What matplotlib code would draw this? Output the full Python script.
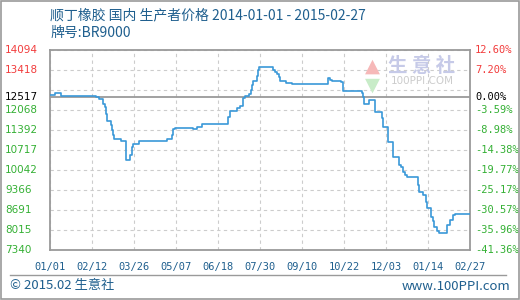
import matplotlib
matplotlib.use("Agg")
import matplotlib.pyplot as plt
from matplotlib.lines import Line2D
from matplotlib.patches import Rectangle
from matplotlib.transforms import blended_transform_factory

plt.rcParams['font.family'] = ['Noto Sans CJK SC', 'DejaVu Sans']

titulo = "顺丁橡胶 国内 生产者价格 2014-01-01 - 2015-02-27"
subtitulo = "牌号:BR9000"

# precio por escalones: dia desde 2014-01-01 -> precio
dias = [0, 5, 11, 46, 49, 53, 55, 56, 57, 61, 62, 63, 64, 71, 76, 80, 82, 83,
        89, 117, 122, 123, 125, 143, 147, 152, 178, 180, 187, 190, 193, 195,
        199, 201, 202, 203, 207, 208, 209, 210, 223, 225, 227, 229, 230, 236,
        242, 278, 280, 282, 291, 293, 312, 313, 314, 319, 325, 332, 333, 338,
        343, 349, 351, 353, 355, 357, 368, 369, 373, 376, 377, 381, 383, 384,
        387, 389, 397, 400, 403, 405]
precios = [12570, 12630, 12540, 12507, 12430, 12260, 12170, 11940, 11690, 11550,
           11380, 11230, 11080, 11010, 10380, 10550, 10830, 10910, 11010, 11080,
           11220, 11420, 11450, 11420, 11480, 11590, 11840, 12030, 12120, 12200,
           12480, 12540, 12600, 12740, 12910, 13060, 13230, 13420, 13510, 13530,
           13420, 13360, 13270, 13190, 13050, 12970, 12940, 13140, 13080, 13060,
           13020, 12710, 12630, 12500, 12270, 12410, 12010, 11790, 11480, 10980,
           10490, 10210, 10130, 9980, 9870, 9820, 9540, 9290, 9200, 8970,
           8750, 8470, 8330, 8110, 7990, 7900, 8180, 8350, 8520, 8560]
dia_final = 420

base = 12517
x_ticks = [0, 42, 84, 126, 168, 210, 252, 294, 336, 378, 420]
x_labels = ["01/01", "02/12", "03/26", "05/07", "06/18", "07/30",
            "09/10", "10/22", "12/03", "01/14", "02/27"]

y_grid = [14094, 13418.6, 12743.2, 12067.8, 11392.4, 10717,
          10041.6, 9366.2, 8690.8, 8015.4, 7340]
y_vals = [14094, 13418.6, 12517, 12067.8, 11392.4, 10717,
          10041.6, 9366.2, 8690.8, 8015.4, 7340]
y_labels = ["14094", "13418", "12517", "12068", "11392", "10717",
            "10042", "9366", "8691", "8015", "7340"]
pct_labels = ["12.60%", "7.20%", "0.00%", "-3.59%", "-8.98%", "-14.38%",
              "-19.77%", "-25.17%", "-30.57%", "-35.96%", "-41.36%"]

azul_texto = '#1f5f8e'
rojo = '#f23c3c'
verde = '#34b034'
gris = '#9a9a9a'

fig = plt.figure(figsize=(5.2, 3.0), dpi=100)
ax = fig.add_axes([50 / 520, 50 / 300, 420 / 520, 200 / 300])

ax.step(dias + [dia_final], precios + [precios[-1]], where='post',
        color='#3a98d8', linewidth=1.2, zorder=3)

ax.set_xlim(0, 420)
ax.set_ylim(7340, 14094)
ax.set_yticks(y_grid)
ax.set_xticks(x_ticks)
ax.tick_params(length=0, labelleft=False, labelbottom=False)
ax.grid(True, color='#cccccc', linestyle=(0, (3, 3)), linewidth=0.8)
ax.axhline(base, color=gris, linewidth=1.3, zorder=2)
for s in ax.spines.values():
    s.set_color(gris)
    s.set_linewidth(1.3)

# etiquetas de los ejes
tr = blended_transform_factory(fig.transFigure, ax.transData)
for v, lab, pct in zip(y_vals, y_labels, pct_labels):
    if v > base + 1:
        c = rojo
    elif abs(v - base) < 1:
        c = 'black'
    else:
        c = verde
    ax.text(5 / 520, v, lab, transform=tr, color=c, fontsize=7.5,
            ha='left', va='center', family='DejaVu Sans')
    ax.text(475 / 520, v, pct, transform=tr, color=c, fontsize=7.5,
            ha='left', va='center', family='DejaVu Sans Mono')

trx = blended_transform_factory(ax.transData, fig.transFigure)
for d, lab in zip(x_ticks, x_labels):
    ax.text(d, 1 - 267 / 300, lab, transform=trx, color=azul_texto,
            fontsize=7.5, ha='center', va='center', family='DejaVu Sans Mono')

# titulos
fig.text(50 / 520, 1 - 15 / 300, titulo, color=azul_texto, fontsize=10,
         ha='left', va='center')
fig.text(50 / 520, 1 - 33 / 300, subtitulo, color=azul_texto, fontsize=10,
         ha='left', va='center')

# marca de agua
fig.text(372 / 520, 1 - 66 / 300, '▲', color='#f6b8b8', fontsize=14,
         ha='center', va='center', family='DejaVu Sans')
fig.text(372 / 520, 1 - 85 / 300, '▼', color='#c8ecc8', fontsize=14,
         ha='center', va='center', family='DejaVu Sans')
fig.text(422 / 520, 1 - 66 / 300, '生 意 社', color='#c6cae8', fontsize=14,
         fontweight='bold', ha='center', va='center')
fig.text(422 / 520, 1 - 81 / 300, '100PPI.COM', color='#cccccc', fontsize=7.5,
         ha='center', va='center', family='DejaVu Sans')

# pie
fig.add_artist(Line2D([10 / 520, 506 / 520], [1 - 275 / 300, 1 - 275 / 300],
                      transform=fig.transFigure, color=gris, linewidth=1))
fig.text(10 / 520, 1 - 286 / 300, '© 2015.02 生意社', color=azul_texto,
         fontsize=9.5, ha='left', va='center')
fig.text(510 / 520, 1 - 286 / 300, 'www.100PPI.com', color=azul_texto,
         fontsize=9.5, ha='right', va='center')

fig.add_artist(Rectangle((0.001, 0.002), 0.997, 0.995, transform=fig.transFigure,
                         fill=False, edgecolor=gris, linewidth=1.2))

fig.savefig("out.png", dpi=100)
